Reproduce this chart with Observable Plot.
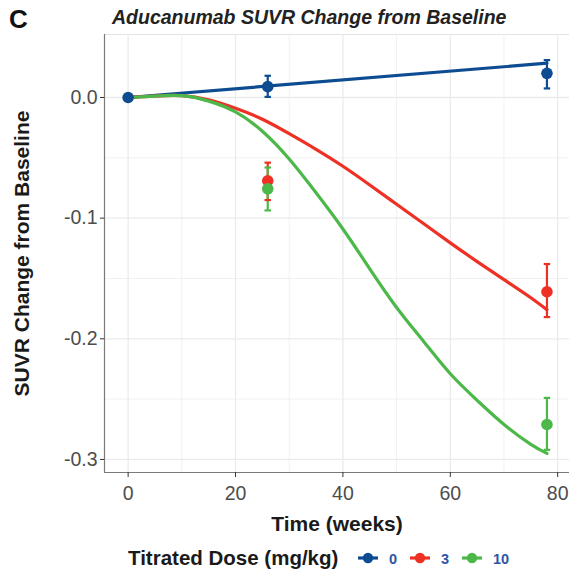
<!DOCTYPE html>
<html><head><meta charset="utf-8">
<script src="https://cdn.jsdelivr.net/npm/d3@7"></script>
<script src="https://cdn.jsdelivr.net/npm/@observablehq/plot@0.6"></script>
<style>
body{margin:0;background:#fff;font-family:"Liberation Sans",Arial,sans-serif;}
#wrap{position:relative;width:569px;height:572px;overflow:hidden;background:#fff}
#hdr{position:relative;height:30px}
#plabel{position:absolute;left:9px;top:6px;font-size:26px;font-weight:bold;color:#111;line-height:1}
#title{position:absolute;left:112px;top:8px;font-size:19.5px;font-weight:bold;font-style:italic;color:#222;line-height:1;white-space:nowrap}
#chart svg{display:block}
#legend{position:absolute;left:0;top:540px;width:569px;height:32px}
#legend .lt{position:absolute;left:128px;top:8px;font-size:20.5px;font-weight:bold;color:#1a1a1a;white-space:nowrap;line-height:1}
#legend .item{position:absolute;top:8px;height:20px}
#legend .lab{position:absolute;top:12px;font-size:14.5px;font-weight:bold;color:#2f56a6;line-height:1}
</style></head>
<body>
<div id="wrap">
  <div id="hdr"><div id="plabel">C</div><div id="title">Aducanumab SUVR Change from Baseline</div></div>
  <div id="chart"></div>
  <div id="legend"></div>
</div>
<script>
// ---- data ----
const doses = ["0", "3", "10"];
const doseColors = ["#0E4C92", "#EE3124", "#4DB84A"];

const obsWeeks = [0, 26, 78];
const dose0Mean = [0, 0.009, 0.020];
const dose0Lo   = [null, 0.0005, 0.0075];
const dose0Hi   = [null, 0.018, 0.031];
const dose3Mean = [null, -0.069, -0.161];
const dose3Lo   = [null, -0.085, -0.182];
const dose3Hi   = [null, -0.054, -0.138];
const dose10Mean = [null, -0.0757, -0.271];
const dose10Lo   = [null, -0.0936, -0.292];
const dose10Hi   = [null, -0.058, -0.249];

// model prediction curves
const blueWeeks = [0, 78];
const blueCurve = [0, 0.0284];
const curveWeeks = [0, 5, 10, 15, 20, 25, 30, 35, 40, 45, 50, 55, 60, 65, 70, 75, 78];
const redCurve   = [0, 0.0012, 0.0015, -0.002, -0.009, -0.018, -0.030, -0.043, -0.057, -0.0725, -0.0885, -0.1045, -0.1205, -0.136, -0.151, -0.166, -0.176];
const greenCurve = [0, 0.0012, 0.0015, -0.003, -0.012, -0.028, -0.051, -0.079, -0.109, -0.142, -0.174, -0.202, -0.229, -0.251, -0.271, -0.2875, -0.295];

const xTicks = [0, 20, 40, 60, 80];
const xMinor = [10, 30, 50, 70];
const yTicks = [0, -0.1, -0.2, -0.3];
const yMinor = [-0.05, -0.15, -0.25];
const yTickLabels = ["0.0", "-0.1", "-0.2", "-0.3"];
const xDomain = [-4.4, 82.2];
const yDomain = [-0.3108, 0.0522];

// ---- build tables ----
const means = [dose0Mean, dose3Mean, dose10Mean];
const los = [dose0Lo, dose3Lo, dose10Lo];
const his = [dose0Hi, dose3Hi, dose10Hi];
const obs = [];
doses.forEach((d, i) => obsWeeks.forEach((w, j) => {
  if (means[i][j] != null) obs.push({dose: d, week: w, mean: means[i][j], lo: los[i][j], hi: his[i][j]});
}));
const errs = obs.filter(o => o.lo != null);
const curves = [];
blueWeeks.forEach((w, j) => curves.push({dose: "0", week: w, v: blueCurve[j]}));
curveWeeks.forEach((w, j) => curves.push({dose: "3", week: w, v: redCurve[j]}));
curveWeeks.forEach((w, j) => curves.push({dose: "10", week: w, v: greenCurve[j]}));

const font = "Liberation Sans, Arial, sans-serif";
const grid = "#EBEBEB";
const capHalf = 0.6;

const plot = Plot.plot({
  width: 569, height: 510,
  marginTop: 4, marginLeft: 104, marginRight: 0, marginBottom: 68,
  style: {fontFamily: font, background: "white", overflow: "visible"},
  x: {domain: xDomain, axis: null},
  y: {domain: yDomain, axis: null},
  color: {domain: doses, range: doseColors},
  marks: [
    Plot.frame({stroke: "#E3E3E3", strokeWidth: 1}),
    Plot.gridX(xMinor, {stroke: grid, strokeOpacity: 1, strokeWidth: 0.7}),
    Plot.gridX(xTicks, {stroke: grid, strokeOpacity: 1, strokeWidth: 1.3}),
    Plot.gridY(yMinor, {stroke: grid, strokeOpacity: 1, strokeWidth: 0.7}),
    Plot.gridY(yTicks, {stroke: grid, strokeOpacity: 1, strokeWidth: 1.3}),
    Plot.ruleX([xDomain[0]], {stroke: "#7a7a7a", strokeWidth: 1.2}),
    Plot.ruleY([yDomain[0]], {stroke: "#7a7a7a", strokeWidth: 1.2}),
    Plot.axisX(xTicks, {tickSize: 5, tickPadding: 9, fontSize: 19.5, color: "#4D4D4D", stroke: "#333", label: null}),
    Plot.axisY(yTicks, {tickSize: 4, tickPadding: 3, fontSize: 19.5, color: "#4D4D4D", stroke: "#333", label: null,
      tickFormat: (d) => yTickLabels[yTicks.indexOf(d)]}),
    Plot.text(["Time (weeks)"], {frameAnchor: "bottom", dy: 58, fontSize: 21, fontWeight: "bold", fill: "#1a1a1a"}),
    Plot.text(["SUVR Change from Baseline"], {frameAnchor: "left", textAnchor: "middle", lineAnchor: "middle", dx: -82, rotate: -90, fontSize: 21, fontWeight: "bold", fill: "#1a1a1a"}),
    Plot.line(curves, {x: "week", y: "v", z: "dose", stroke: "dose", strokeWidth: 3.2, curve: "natural"}),
    Plot.ruleX(errs, {x: "week", y1: "lo", y2: "hi", stroke: "dose", strokeWidth: 2.2}),
    Plot.link(errs, {x1: d => d.week - capHalf, x2: d => d.week + capHalf, y1: "lo", y2: "lo", stroke: "dose", strokeWidth: 2.2}),
    Plot.link(errs, {x1: d => d.week - capHalf, x2: d => d.week + capHalf, y1: "hi", y2: "hi", stroke: "dose", strokeWidth: 2.2}),
    Plot.dot(obs, {x: "week", y: "mean", fill: "dose", r: 5.8})
  ]
});
document.getElementById("chart").appendChild(plot);

// ---- legend ----
const leg = document.getElementById("legend");
const lt = document.createElement("div"); lt.className = "lt"; lt.textContent = "Titrated Dose (mg/kg)"; leg.appendChild(lt);
const keyX = [357, 409, 461];
const labX = [389, 441, 493];
doses.forEach((d, i) => {
  const sw = document.createElementNS("http://www.w3.org/2000/svg", "svg");
  sw.setAttribute("width", 22); sw.setAttribute("height", 20);
  sw.setAttribute("class", "item"); sw.style.left = keyX[i] + "px";
  sw.innerHTML = `<line x1="1" x2="21" y1="10" y2="10" stroke="${doseColors[i]}" stroke-width="3.2"/><circle cx="11" cy="10" r="5.2" fill="${doseColors[i]}"/>`;
  leg.appendChild(sw);
  const lb = document.createElement("div"); lb.className = "lab"; lb.style.left = labX[i] + "px"; lb.textContent = d;
  leg.appendChild(lb);
});
</script>
</body></html>
